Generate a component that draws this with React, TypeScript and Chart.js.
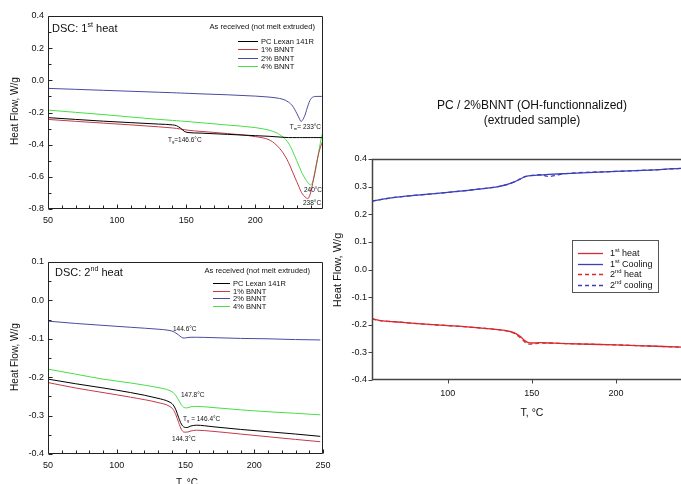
import React, { useEffect, useRef } from "react";
import { Chart, registerables } from "chart.js";

Chart.register(...registerables);

const FONT = "'Liberation Sans', Arial, Helvetica, sans-serif";

// ===== Panel A : DSC 1st heat =====
const heat1Temps = [50, 70, 90, 110, 130, 140, 143, 146, 149, 152, 160, 180, 200, 210, 215, 220, 224, 227, 230, 232, 233, 234, 236, 238, 240, 242, 244, 246, 248, 249];
const heat1Pc = [-0.232, -0.243, -0.254, -0.263, -0.272, -0.277, -0.282, -0.298, -0.319, -0.325, -0.328, -0.336, -0.344, -0.348, -0.351, -0.354, -0.356, -0.356, -0.356, -0.356, -0.356, -0.356, -0.356, -0.356, -0.356, -0.356, -0.356, -0.356, -0.356, -0.356];
const heat1Bnnt1 = [-0.243, -0.255, -0.266, -0.277, -0.289, -0.296, -0.299, -0.303, -0.307, -0.311, -0.317, -0.331, -0.35, -0.37, -0.4, -0.45, -0.51, -0.57, -0.63, -0.67, -0.69, -0.705, -0.725, -0.735, -0.7, -0.62, -0.53, -0.45, -0.395, -0.375];
const heat1Bnnt2 = [-0.05, -0.056, -0.062, -0.068, -0.074, -0.077, -0.078, -0.079, -0.08, -0.081, -0.084, -0.09, -0.098, -0.104, -0.109, -0.118, -0.135, -0.16, -0.205, -0.24, -0.255, -0.25, -0.215, -0.16, -0.118, -0.103, -0.1, -0.1, -0.1, -0.1];
const heat1Bnnt4 = [-0.185, -0.199, -0.213, -0.228, -0.243, -0.249, -0.251, -0.253, -0.255, -0.257, -0.263, -0.278, -0.294, -0.31, -0.325, -0.352, -0.39, -0.44, -0.5, -0.54, -0.56, -0.58, -0.61, -0.635, -0.65, -0.62, -0.54, -0.44, -0.35, -0.32];
const heat1XTicks = [50, 100, 150, 200];
const heat1YTicks = [-0.8, -0.6, -0.4, -0.2, 0, 0.2, 0.4];

// ===== Panel B : DSC 2nd heat =====
const heat2Temps = [50, 70, 90, 110, 130, 138, 141, 143, 145, 147, 149, 151, 154, 158, 170, 190, 210, 230, 248];
const heat2Pc = [-0.205, -0.217, -0.228, -0.24, -0.255, -0.264, -0.272, -0.285, -0.305, -0.322, -0.33, -0.331, -0.327, -0.325, -0.329, -0.336, -0.342, -0.348, -0.354];
const heat2Bnnt1 = [-0.214, -0.228, -0.24, -0.252, -0.266, -0.275, -0.284, -0.298, -0.318, -0.336, -0.343, -0.343, -0.34, -0.338, -0.341, -0.348, -0.355, -0.362, -0.368];
const heat2Bnnt2 = [-0.054, -0.06, -0.065, -0.07, -0.075, -0.078, -0.081, -0.085, -0.09, -0.096, -0.098, -0.097, -0.096, -0.096, -0.097, -0.099, -0.1, -0.102, -0.103];
const heat2Bnnt4 = [-0.179, -0.192, -0.205, -0.215, -0.227, -0.234, -0.24, -0.248, -0.26, -0.272, -0.279, -0.28, -0.277, -0.276, -0.279, -0.285, -0.29, -0.294, -0.298];
const heat2XTicks = [50, 100, 150, 200, 250];
const heat2YTicks = [-0.4, -0.3, -0.2, -0.1, 0, 0.1];

const sampleNames = ["PC Lexan 141R", "1% BNNT", "2% BNNT", "4% BNNT"];
const sampleColors = ["#000000", "#c43a48", "#4a4aa0", "#44e044"];

// ===== Panel C : PC / 2%BNNT extruded =====
const extrTemps = [55, 60, 70, 80, 100, 120, 130, 136, 140, 143, 146, 148, 150, 155, 160, 170, 200, 220, 239, 250];
const extrHeat1 = [-0.178, -0.185, -0.19, -0.195, -0.203, -0.212, -0.218, -0.223, -0.23, -0.242, -0.258, -0.265, -0.266, -0.265, -0.266, -0.268, -0.273, -0.277, -0.281, -0.283];
const extrCool1 = [0.248, 0.253, 0.262, 0.268, 0.279, 0.292, 0.3, 0.309, 0.318, 0.327, 0.336, 0.339, 0.34, 0.342, 0.344, 0.347, 0.355, 0.36, 0.366, 0.368];
const extrHeat2 = [-0.179, -0.185, -0.19, -0.195, -0.203, -0.212, -0.218, -0.224, -0.232, -0.246, -0.263, -0.27, -0.27, -0.266, -0.266, -0.268, -0.273, -0.277, -0.281, -0.283];
const extrCool2 = [0.248, 0.253, 0.262, 0.268, 0.279, 0.292, 0.3, 0.309, 0.318, 0.327, 0.336, 0.339, 0.341, 0.343, 0.337, 0.347, 0.355, 0.36, 0.366, 0.368];
const extrNames = ["1^{st} heat", "1^{st} Cooling", "2^{nd} heat", "2^{nd} cooling"];
const extrXTicks = [100, 150, 200];
const extrYTicks = [-0.4, -0.3, -0.2, -0.1, 0, 0.1, 0.2, 0.3, 0.4];

// ---------- rich text helpers ----------
type Seg = { t: string; k: "n" | "sup" | "sub" };
function parseRich(s: string): Seg[] {
  const out: Seg[] = [];
  const re = /\^\{([^}]*)\}|_\{([^}]*)\}|([^^_]+)/g;
  let m: RegExpExecArray | null;
  while ((m = re.exec(s))) {
    if (m[1] !== undefined) out.push({ t: m[1], k: "sup" });
    else if (m[2] !== undefined) out.push({ t: m[2], k: "sub" });
    else out.push({ t: m[3], k: "n" });
  }
  return out;
}
function drawRich(ctx: CanvasRenderingContext2D, text: string, x: number, y: number, size: number, align: string, color: string) {
  const segs = parseRich(text).map((s) => {
    const fs = s.k === "n" ? size : size * 0.65;
    ctx.font = `${fs}px ${FONT}`;
    return { s, fs, w: ctx.measureText(s.t).width };
  });
  const total = segs.reduce((a, p) => a + p.w, 0);
  let cx = align === "left" ? x : align === "center" ? x - total / 2 : x - total;
  ctx.textBaseline = "middle";
  ctx.textAlign = "left";
  ctx.fillStyle = color;
  for (const p of segs) {
    ctx.font = `${p.fs}px ${FONT}`;
    const dy = p.s.k === "sub" ? size * 0.32 : p.s.k === "sup" ? -size * 0.35 : 0;
    ctx.fillText(p.s.t, cx, y + dy);
    cx += p.w;
  }
}

type TextItem = { text: string; x: number; y: number; size: number; align: string; rotate?: boolean; data?: boolean };
type Decor = {
  axisColor: string;
  axisWidth: number;
  tickDir: number;
  xMajor: number;
  xMinor: number;
  yMajor: number;
  yMinor: number;
  majorLen: number;
  minorLen: number;
  texts: TextItem[];
  legend: {
    heading?: { text: string; x: number; y: number; size: number };
    box?: { x: number; y: number; w: number; h: number };
    x0: number;
    x1: number;
    tx: number;
    y0: number;
    dy: number;
    size: number;
    lw: number;
  };
};

function decorPlugin(d: Decor) {
  return {
    id: "decor",
    afterDraw(chart: any) {
      const { ctx, chartArea: a, scales } = chart;
      const xs = scales.x;
      const ys = scales.y;
      ctx.save();
      ctx.strokeStyle = d.axisColor;
      ctx.lineWidth = d.axisWidth;
      const L = Math.round(a.left) + 0.5;
      const R = Math.round(a.right) - 0.5;
      const T = Math.round(a.top) + 0.5;
      const B = Math.round(a.bottom) - 0.5;
      ctx.beginPath();
      ctx.moveTo(L, T);
      ctx.lineTo(R, T);
      ctx.lineTo(R, B);
      ctx.lineTo(L, B);
      ctx.closePath();
      ctx.stroke();
      ctx.lineWidth = 1;
      ctx.beginPath();
      const step = (min: number, max: number, minor: number, major: number, fn: (v: number, len: number) => void) => {
        const inc = minor > 0 ? minor : major;
        for (let i = Math.ceil(min / inc - 1e-9); i * inc <= max + 1e-9; i++) {
          const v = i * inc;
          const isMaj = Math.abs(v / major - Math.round(v / major)) < 1e-6;
          fn(v, isMaj ? d.majorLen : d.minorLen);
        }
      };
      step(xs.min, xs.max, d.xMinor, d.xMajor, (v, len) => {
        const px = Math.round(xs.getPixelForValue(v)) + 0.5;
        ctx.moveTo(px, B);
        ctx.lineTo(px, B - d.tickDir * len);
      });
      step(ys.min, ys.max, d.yMinor, d.yMajor, (v, len) => {
        const py = Math.round(ys.getPixelForValue(v)) + 0.5;
        ctx.moveTo(L, py);
        ctx.lineTo(L + d.tickDir * len, py);
      });
      ctx.stroke();
      for (const t of d.texts) {
        const x = t.data ? xs.getPixelForValue(t.x) : t.x;
        const y = t.data ? ys.getPixelForValue(t.y) : t.y;
        if (t.rotate) {
          ctx.save();
          ctx.translate(x, y);
          ctx.rotate(-Math.PI / 2);
          drawRich(ctx, t.text, 0, 0, t.size, "center", "#111");
          ctx.restore();
        } else {
          drawRich(ctx, t.text, x, y, t.size, t.align, "#111");
        }
      }
      const lg = d.legend;
      if (lg.box) {
        ctx.fillStyle = "#ffffff";
        ctx.fillRect(lg.box.x, lg.box.y, lg.box.w, lg.box.h);
        ctx.strokeStyle = "#555";
        ctx.lineWidth = 1;
        ctx.strokeRect(lg.box.x + 0.5, lg.box.y + 0.5, lg.box.w, lg.box.h);
      }
      if (lg.heading) drawRich(ctx, lg.heading.text, lg.heading.x, lg.heading.y, lg.heading.size, "right", "#111");
      chart.data.datasets.forEach((ds: any, i: number) => {
        const y = Math.round(lg.y0 + i * lg.dy) + 0.5;
        ctx.strokeStyle = ds.borderColor;
        ctx.lineWidth = lg.lw;
        ctx.setLineDash(ds.borderDash || []);
        ctx.beginPath();
        ctx.moveTo(lg.x0, y);
        ctx.lineTo(lg.x1, y);
        ctx.stroke();
        ctx.setLineDash([]);
        drawRich(ctx, ds.label, lg.tx, y, lg.size, "left", "#111");
      });
      ctx.restore();
    },
  };
}

type Series = { label: string; values: number[]; color: string; dash?: number[] };
type PanelOpts = {
  temps: number[];
  series: Series[];
  lineWidth: number;
  xMin: number;
  xMax: number;
  xTicks: number[];
  yMin: number;
  yMax: number;
  yTicks: number[];
  padTop: number;
  padRight: number;
  xAxisH: number;
  yAxisW: number;
  xPad: number;
  yPad: number;
  tickSize: number;
  decor: Decor;
};

function makeConfig(o: PanelOpts): any {
  return {
    type: "line",
    data: {
      datasets: o.series.map((s) => ({
        label: s.label,
        data: o.temps.map((t, i) => ({ x: t, y: s.values[i] })),
        borderColor: s.color,
        borderWidth: o.lineWidth,
        borderDash: s.dash || [],
        pointRadius: 0,
        fill: false,
        cubicInterpolationMode: "monotone",
      })),
    },
    options: {
      animation: false,
      responsive: false,
      events: [],
      layout: { padding: { top: o.padTop, right: o.padRight, left: 0, bottom: 0 } },
      plugins: { legend: { display: false }, tooltip: { enabled: false }, title: { display: false } },
      scales: {
        x: {
          type: "linear",
          min: o.xMin,
          max: o.xMax,
          afterBuildTicks: (s: any) => {
            s.ticks = o.xTicks.map((v) => ({ value: v }));
          },
          afterFit: (s: any) => {
            s.height = o.xAxisH;
          },
          grid: { display: false, drawTicks: false },
          border: { display: false },
          ticks: {
            autoSkip: false,
            maxRotation: 0,
            padding: o.xPad,
            color: "#111",
            font: { family: FONT, size: o.tickSize },
            callback: (v: number) => String(Math.round(v)),
          },
        },
        y: {
          type: "linear",
          min: o.yMin,
          max: o.yMax,
          afterBuildTicks: (s: any) => {
            s.ticks = o.yTicks.map((v) => ({ value: v }));
          },
          afterFit: (s: any) => {
            s.width = o.yAxisW;
          },
          grid: { display: false, drawTicks: false },
          border: { display: false },
          ticks: {
            autoSkip: false,
            padding: o.yPad,
            color: "#111",
            font: { family: FONT, size: o.tickSize },
            callback: (v: number) => {
              const r = Math.round(v * 10) / 10;
              return (r === 0 ? 0 : r).toFixed(1);
            },
          },
        },
      },
    },
    plugins: [decorPlugin(o.decor)],
  };
}

const panelA: PanelOpts = {
  temps: heat1Temps,
  series: [heat1Pc, heat1Bnnt1, heat1Bnnt2, heat1Bnnt4].map((v, i) => ({ label: sampleNames[i], values: v, color: sampleColors[i] })),
  lineWidth: 1,
  xMin: 50,
  xMax: 249,
  xTicks: heat1XTicks,
  yMin: -0.8,
  yMax: 0.4,
  yTicks: heat1YTicks,
  padTop: 16,
  padRight: 17,
  xAxisH: 23,
  yAxisW: 48,
  xPad: 6,
  yPad: 4,
  tickSize: 9,
  decor: {
    axisColor: "#222",
    axisWidth: 1,
    tickDir: 1,
    xMajor: 50,
    xMinor: 10,
    yMajor: 0.2,
    yMinor: 0.1,
    majorLen: 4,
    minorLen: 3,
    texts: [
      { text: "DSC: 1^{st} heat", x: 52, y: 29, size: 11, align: "left" },
      { text: "Heat Flow, W/g", x: 15, y: 111, size: 10, align: "center", rotate: true },
      { text: "T_{g}=146.6°C", x: 136.8, y: -0.371, size: 6.5, align: "left", data: true },
      { text: "T_{m}= 233°C", x: 225, y: -0.29, size: 6.5, align: "left", data: true },
      { text: "240°C", x: 235.2, y: -0.682, size: 6.5, align: "left", data: true },
      { text: "238°C", x: 234.5, y: -0.763, size: 6.5, align: "left", data: true },
    ],
    legend: {
      heading: { text: "As received (not melt extruded)", x: 315, y: 27, size: 7.6 },
      x0: 238,
      x1: 258,
      tx: 261,
      y0: 41,
      dy: 8.3,
      size: 7.5,
      lw: 1,
    },
  },
};

const panelB: PanelOpts = {
  temps: heat2Temps,
  series: [heat2Pc, heat2Bnnt1, heat2Bnnt2, heat2Bnnt4].map((v, i) => ({ label: sampleNames[i], values: v, color: sampleColors[i] })),
  lineWidth: 1,
  xMin: 50,
  xMax: 250,
  xTicks: heat2XTicks,
  yMin: -0.4,
  yMax: 0.1,
  yTicks: heat2YTicks,
  padTop: 30,
  padRight: 17,
  xAxisH: 30,
  yAxisW: 48,
  xPad: 6,
  yPad: 4,
  tickSize: 9,
  decor: {
    axisColor: "#222",
    axisWidth: 1,
    tickDir: 1,
    xMajor: 50,
    xMinor: 10,
    yMajor: 0.1,
    yMinor: 0.05,
    majorLen: 4,
    minorLen: 3,
    texts: [
      { text: "DSC: 2^{nd} heat", x: 55, y: 41, size: 11, align: "left" },
      { text: "Heat Flow, W/g", x: 15, y: 125, size: 10, align: "center", rotate: true },
      { text: "T, °C", x: 187, y: 251, size: 10, align: "center" },
      { text: "144.6°C", x: 140.9, y: -0.0745, size: 6.5, align: "left", data: true },
      { text: "147.8°C", x: 146.7, y: -0.246, size: 6.5, align: "left", data: true },
      { text: "T_{g} = 146.4°C", x: 148.2, y: -0.309, size: 6.5, align: "left", data: true },
      { text: "144.3°C", x: 140.2, y: -0.362, size: 6.5, align: "left", data: true },
    ],
    legend: {
      heading: { text: "As received (not melt extruded)", x: 310, y: 39, size: 7.6 },
      x0: 213,
      x1: 230,
      tx: 233,
      y0: 51,
      dy: 7.6,
      size: 7.5,
      lw: 1,
    },
  },
};

const extrColors = ["#d42a30", "#3c40b8", "#d42a30", "#3c40b8"];
const panelC: PanelOpts = {
  temps: extrTemps,
  series: [extrHeat1, extrCool1, extrHeat2, extrCool2].map((v, i) => ({
    label: extrNames[i],
    values: v,
    color: extrColors[i],
    dash: i >= 2 ? [4, 3] : [],
  })),
  lineWidth: 1.3,
  xMin: 55,
  xMax: 250,
  xTicks: extrXTicks,
  yMin: -0.4,
  yMax: 0.4,
  yTicks: extrYTicks,
  padTop: 69,
  padRight: 0,
  xAxisH: 50,
  yAxisW: 42,
  xPad: 8,
  yPad: 5,
  tickSize: 9,
  decor: {
    axisColor: "#444",
    axisWidth: 1.5,
    tickDir: -1,
    xMajor: 50,
    xMinor: 0,
    yMajor: 0.1,
    yMinor: 0,
    majorLen: 4,
    minorLen: 0,
    texts: [
      { text: "PC / 2%BNNT (OH-functionnalized)", x: 202, y: 16, size: 12, align: "center" },
      { text: "(extruded sample)", x: 202, y: 31, size: 12, align: "center" },
      { text: "T, °C", x: 202, y: 323, size: 10.5, align: "center" },
      { text: "Heat Flow, W/g", x: 8, y: 180, size: 11, align: "center", rotate: true },
    ],
    legend: {
      box: { x: 242, y: 150, w: 86, h: 52 },
      x0: 248,
      x1: 273,
      tx: 280,
      y0: 163,
      dy: 10.5,
      size: 9,
      lw: 1.3,
    },
  },
};

function Panel({ opts, left, top, width, height }: { opts: PanelOpts; left: number; top: number; width: number; height: number }) {
  const ref = useRef<HTMLCanvasElement>(null);
  useEffect(() => {
    const chart = new Chart(ref.current as HTMLCanvasElement, makeConfig(opts));
    return () => chart.destroy();
  }, [opts]);
  return (
    <canvas
      ref={ref}
      width={width}
      height={height}
      style={{ position: "absolute", left, top, width, height }}
    />
  );
}

export default function App() {
  return (
    <div
      style={{
        position: "absolute",
        left: 0,
        top: 0,
        width: 681,
        height: 484,
        overflow: "hidden",
        background: "#ffffff",
      }}
    >
      <Panel opts={panelC} left={330} top={90} width={370} height={340} />
      <Panel opts={panelA} left={0} top={0} width={340} height={232} />
      <Panel opts={panelB} left={0} top={232} width={340} height={252} />
    </div>
  );
}
